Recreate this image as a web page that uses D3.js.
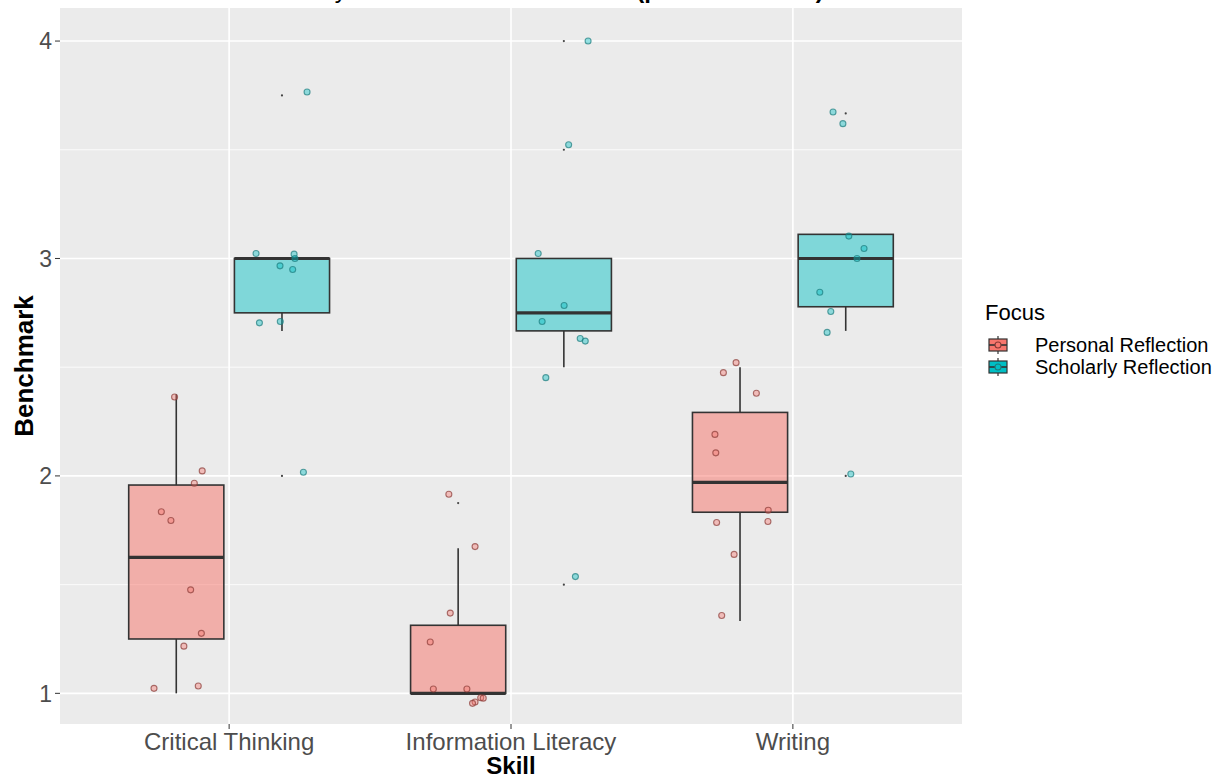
<!DOCTYPE html>
<html>
<head>
<meta charset="utf-8">
<script src="https://cdn.jsdelivr.net/npm/d3@7"></script>
<style>
  html, body { margin: 0; padding: 0; background: #ffffff; }
  svg { display: block; font-family: "Liberation Sans", Arial, sans-serif; }
</style>
</head>
<body>
<svg id="chart" width="1215" height="779"></svg>
<script>
// ---- data ----------------------------------------------------------------
const skills = ["Critical Thinking", "Information Literacy", "Writing"];
const focusGroups = ["Personal Reflection", "Scholarly Reflection"];
const yTicks = [1, 2, 3, 4];

// box summaries, one entry per skill x focus group
const boxSkill    = ["Critical Thinking", "Critical Thinking", "Information Literacy", "Information Literacy", "Writing", "Writing"];
const boxFocus    = ["Personal Reflection", "Scholarly Reflection", "Personal Reflection", "Scholarly Reflection", "Personal Reflection", "Scholarly Reflection"];
const boxLower    = [1.0, 2.667, 1.0, 2.5, 1.333, 2.667];
const boxQ1       = [1.25, 2.75, 1.0, 2.667, 1.833, 2.778];
const boxMedian   = [1.625, 3.0, 1.0, 2.75, 1.97, 3.0];
const boxQ3       = [1.958, 3.0, 1.313, 3.0, 2.292, 3.111];
const boxUpper    = [2.375, 3.0, 1.667, 3.0, 2.5, 3.111];

// boxplot outliers
const outlierSkill = ["Critical Thinking", "Critical Thinking", "Information Literacy", "Information Literacy", "Information Literacy", "Information Literacy", "Writing", "Writing"];
const outlierFocus = ["Scholarly Reflection", "Scholarly Reflection", "Personal Reflection", "Scholarly Reflection", "Scholarly Reflection", "Scholarly Reflection", "Scholarly Reflection", "Scholarly Reflection"];
const outlierValue = [3.75, 2.0, 1.875, 4.0, 3.5, 1.5, 3.667, 2.0];

// individual (jittered) scores; jitter is in category units around the dodged centre
const pointSkill = [
  "Critical Thinking","Critical Thinking","Critical Thinking","Critical Thinking","Critical Thinking",
  "Critical Thinking","Critical Thinking","Critical Thinking","Critical Thinking","Critical Thinking",
  "Critical Thinking","Critical Thinking","Critical Thinking","Critical Thinking","Critical Thinking",
  "Critical Thinking","Critical Thinking","Critical Thinking","Critical Thinking",
  "Information Literacy","Information Literacy","Information Literacy","Information Literacy","Information Literacy",
  "Information Literacy","Information Literacy","Information Literacy","Information Literacy","Information Literacy",
  "Information Literacy","Information Literacy","Information Literacy","Information Literacy","Information Literacy",
  "Information Literacy","Information Literacy","Information Literacy","Information Literacy",
  "Writing","Writing","Writing","Writing","Writing","Writing","Writing","Writing","Writing","Writing",
  "Writing","Writing","Writing","Writing","Writing","Writing","Writing","Writing","Writing"
];
const pointFocus = [
  ...Array(10).fill("Personal Reflection"), ...Array(9).fill("Scholarly Reflection"),
  ...Array(10).fill("Personal Reflection"), ...Array(9).fill("Scholarly Reflection"),
  ...Array(10).fill("Personal Reflection"), ...Array(9).fill("Scholarly Reflection")
];
const pointJitter = [
  -0.006, 0.092, 0.064, -0.053, -0.019, 0.051, 0.089, 0.027, -0.079, 0.078,
  0.089, -0.092, 0.043, 0.046, -0.007, 0.038, -0.080, -0.006, 0.076,
  -0.033, 0.060, -0.028, -0.099, -0.088, 0.031, 0.080, 0.089, 0.060, 0.051,
  0.086, 0.017, -0.091, 0.001, -0.077, 0.058, 0.076, -0.064, 0.041,
  -0.014, -0.059, 0.058, -0.089, -0.086, 0.100, -0.083, 0.099, -0.021, -0.065,
  -0.045, -0.010, 0.011, 0.065, 0.040, -0.092, -0.053, -0.066, 0.018
];
const pointValue = [
  2.363, 2.023, 1.966, 1.835, 1.795, 1.476, 1.276, 1.217, 1.023, 1.034,
  3.766, 3.023, 3.020, 3.000, 2.966, 2.949, 2.704, 2.710, 2.017,
  1.916, 1.675, 1.369, 1.236, 1.020, 1.020, 0.980, 0.978, 0.960, 0.954,
  4.000, 3.523, 3.023, 2.784, 2.710, 2.632, 2.620, 2.452, 1.537,
  2.521, 2.475, 2.380, 2.191, 2.106, 1.842, 1.786, 1.790, 1.639, 1.358,
  3.674, 3.620, 3.103, 3.046, 3.000, 2.845, 2.756, 2.660, 2.009
];

// ---- layout ----------------------------------------------------------------
const panel = { left: 60, right: 962, top: 8, bottom: 724 };
const dodge = 0.1875;        // half of the dodge width
const boxWidth = 0.3375;     // in category units

const fillColor   = d3.scaleOrdinal().domain(focusGroups).range(["#F8766D", "#00BFC4"]);
const strokeColor = d3.scaleOrdinal().domain(focusGroups).range(["#8a3a36", "#1d7c7e"]);

const x = d3.scaleLinear().domain([0.4, skills.length + 0.6]).range([panel.left, panel.right]);
const y = d3.scaleLinear().domain([0.859, 4.152]).range([panel.bottom, panel.top]);
const skillIndex = s => skills.indexOf(s) + 1;
const centre = (s, f) => skillIndex(s) + (f === focusGroups[0] ? -dodge : dodge);

const svg = d3.select("#chart");

// ---- title (sits mostly above the page edge) --------------------------------
const title = svg.append("text")
  .attr("x", 112).attr("y", -2)
  .attr("font-size", 24).attr("fill", "#000");
title.append("tspan").text("Benchmark Scores by Skill and Reflection Focus ");
title.append("tspan").attr("font-weight", "bold").text("(p-value < 0.001)");

// ---- panel & grid ------------------------------------------------------------
svg.append("rect")
  .attr("x", panel.left).attr("y", panel.top)
  .attr("width", panel.right - panel.left).attr("height", panel.bottom - panel.top)
  .attr("fill", "#EBEBEB");

const grid = svg.append("g");
grid.selectAll("line.minor").data([1.5, 2.5, 3.5]).join("line")
  .attr("x1", panel.left).attr("x2", panel.right)
  .attr("y1", d => y(d)).attr("y2", d => y(d))
  .attr("stroke", "#fff").attr("stroke-width", 0.8);
grid.selectAll("line.majorY").data(yTicks).join("line")
  .attr("x1", panel.left).attr("x2", panel.right)
  .attr("y1", d => y(d)).attr("y2", d => y(d))
  .attr("stroke", "#fff").attr("stroke-width", 1.6);
grid.selectAll("line.majorX").data(skills).join("line")
  .attr("x1", d => x(skillIndex(d))).attr("x2", d => x(skillIndex(d)))
  .attr("y1", panel.top).attr("y2", panel.bottom)
  .attr("stroke", "#fff").attr("stroke-width", 1.6);

// ---- boxplots ----------------------------------------------------------------
const boxes = boxSkill.map((s, i) => ({
  skill: s, focus: boxFocus[i], lo: boxLower[i], q1: boxQ1[i],
  med: boxMedian[i], q3: boxQ3[i], hi: boxUpper[i]
}));
const boxG = svg.append("g");
boxes.forEach(b => {
  const cx = x(centre(b.skill, b.focus));
  const hw = (x(boxWidth) - x(0)) / 2;
  const g = boxG.append("g");
  g.append("line").attr("x1", cx).attr("x2", cx).attr("y1", y(b.q3)).attr("y2", y(b.hi))
    .attr("stroke", "#333").attr("stroke-width", 1.6);
  g.append("line").attr("x1", cx).attr("x2", cx).attr("y1", y(b.q1)).attr("y2", y(b.lo))
    .attr("stroke", "#333").attr("stroke-width", 1.6);
  g.append("rect").attr("x", cx - hw).attr("width", 2 * hw)
    .attr("y", y(b.q3)).attr("height", Math.max(0.5, y(b.q1) - y(b.q3)))
    .attr("fill", fillColor(b.focus)).attr("fill-opacity", b.focus === focusGroups[0] ? 0.52 : 0.46)
    .attr("stroke", "#333").attr("stroke-width", 1.6);
  g.append("line").attr("x1", cx - hw).attr("x2", cx + hw).attr("y1", y(b.med)).attr("y2", y(b.med))
    .attr("stroke", "#333").attr("stroke-width", 3.2);
});

// outliers drawn as tiny dots
svg.append("g").selectAll("circle").data(outlierValue.map((v, i) => ({ v, s: outlierSkill[i], f: outlierFocus[i] })))
  .join("circle")
  .attr("cx", d => x(centre(d.s, d.f)))
  .attr("cy", d => y(d.v))
  .attr("r", 1.1)
  .attr("fill", "#444");

// ---- jittered points -------------------------------------------------------------
svg.append("g").selectAll("circle").data(pointValue.map((v, i) => ({ v, s: pointSkill[i], f: pointFocus[i], j: pointJitter[i] })))
  .join("circle")
  .attr("cx", d => x(centre(d.s, d.f) + d.j))
  .attr("cy", d => y(d.v))
  .attr("r", 3)
  .attr("fill", d => fillColor(d.f)).attr("fill-opacity", 0.4)
  .attr("stroke", d => strokeColor(d.f)).attr("stroke-opacity", 0.7).attr("stroke-width", 1.1);

// ---- axes ------------------------------------------------------------------------
const yAxis = svg.append("g");
yAxis.selectAll("line").data(yTicks).join("line")
  .attr("x1", panel.left - 5).attr("x2", panel.left)
  .attr("y1", d => y(d)).attr("y2", d => y(d))
  .attr("stroke", "#333").attr("stroke-width", 1);
yAxis.selectAll("text").data(yTicks).join("text")
  .attr("x", panel.left - 8).attr("y", d => y(d))
  .attr("dy", "0.36em").attr("text-anchor", "end")
  .attr("font-size", 23).attr("fill", "#4D4D4D")
  .text(d => d);

const xAxis = svg.append("g");
xAxis.selectAll("line").data(skills).join("line")
  .attr("x1", d => x(skillIndex(d))).attr("x2", d => x(skillIndex(d)))
  .attr("y1", panel.bottom).attr("y2", panel.bottom + 5)
  .attr("stroke", "#333").attr("stroke-width", 1);
xAxis.selectAll("text").data(skills).join("text")
  .attr("x", d => x(skillIndex(d))).attr("y", 750)
  .attr("text-anchor", "middle")
  .attr("font-size", 24).attr("fill", "#4D4D4D")
  .text(d => d);

svg.append("text")
  .attr("x", (panel.left + panel.right) / 2).attr("y", 774)
  .attr("text-anchor", "middle").attr("font-size", 24).attr("font-weight", "bold")
  .text("Skill");
svg.append("text")
  .attr("transform", `translate(33, ${(panel.top + panel.bottom) / 2}) rotate(-90)`)
  .attr("text-anchor", "middle").attr("font-size", 26).attr("font-weight", "bold")
  .text("Benchmark");

// ---- legend ------------------------------------------------------------------------
const legend = svg.append("g");
legend.append("text").attr("x", 985).attr("y", 320).attr("font-size", 22).attr("fill", "#000").text("Focus");
focusGroups.forEach((f, i) => {
  const cy = 345 + i * 22;
  const kx = 998;
  const g = legend.append("g");
  g.append("line").attr("x1", kx).attr("x2", kx).attr("y1", cy - 9).attr("y2", cy + 9)
    .attr("stroke", "#333").attr("stroke-width", 1.2);
  g.append("rect").attr("x", kx - 9).attr("y", cy - 6).attr("width", 18).attr("height", 12)
    .attr("fill", fillColor(f)).attr("stroke", "#333").attr("stroke-width", 1.2);
  g.append("line").attr("x1", kx - 9).attr("x2", kx + 9).attr("y1", cy).attr("y2", cy)
    .attr("stroke", "#333").attr("stroke-width", 1.6);
  g.append("circle").attr("cx", kx).attr("cy", cy).attr("r", 3)
    .attr("fill", fillColor(f)).attr("stroke", strokeColor(f)).attr("stroke-width", 1.1);
  g.append("text").attr("x", 1035).attr("y", cy).attr("dy", "0.36em")
    .attr("font-size", 20).attr("fill", "#000").text(f);
});
</script>
</body>
</html>
